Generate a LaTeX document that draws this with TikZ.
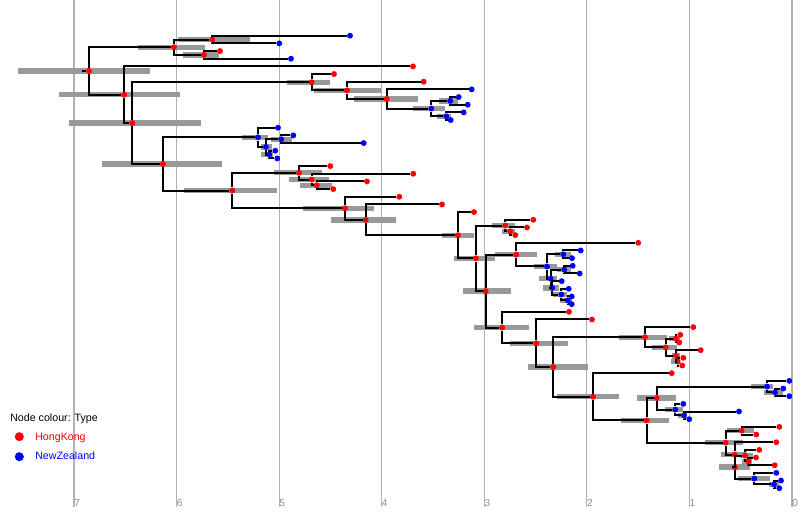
\documentclass[tikz,border=0pt]{standalone}
\usepackage{fontspec}
\setmainfont{Liberation Sans}
\usetikzlibrary{backgrounds}
\colorlet{hk}{red}
\colorlet{nz}{blue}
\begin{document}
\begin{tikzpicture}[x=0.75pt,y=-0.75pt,
  dot/.style={circle,inner sep=0pt,minimum size=4.4pt},
  branch/.style={line width=1.5pt},
  hpd/.style={line width=4pt,black!40},
  gridline/.style={black!30,line width=0.8pt},
  lab/.style={inner sep=0pt,anchor=base west,font=\fontsize{8}{10}\selectfont},
  axislab/.style={lab,text=black!45,font=\fontsize{7.6}{9}\selectfont}]

  \useasboundingbox (0,0) rectangle (807,513);

  % tips, evenly spaced from the top
  \foreach \i/\x/\c in {
    0/350/nz, 1/279.3/nz, 2/220/hk, 3/291/nz, 4/413/hk, 5/334/hk,
    6/423.7/hk, 7/471.7/nz, 8/458.7/nz, 9/467.7/nz, 10/463.7/nz, 11/450.7/nz,
    12/278/nz, 13/293.3/nz, 14/363.7/nz, 15/275.3/nz, 16/277.3/nz,
    17/330.3/hk, 18/413.3/hk, 19/367/hk, 20/333.3/hk, 21/399.3/hk,
    22/442/hk, 23/474/hk, 24/533.3/hk, 25/527/hk, 26/515.3/hk, 27/638.3/hk,
    28/580.7/nz, 29/572/nz, 30/572.7/nz, 31/579.7/nz, 32/561.7/nz,
    33/568.7/nz, 34/571.7/nz, 35/571.7/nz,
    36/569/hk, 37/592/hk, 38/693.3/hk, 39/680.3/hk, 40/679.3/hk,
    41/700.7/hk, 42/683.3/hk, 43/682.3/hk, 44/671.7/hk,
    45/789.3/nz, 46/783.3/nz, 47/789.3/nz, 48/683.3/nz, 49/739/nz, 50/689.3/nz,
    51/779.3/hk, 52/756.3/hk, 53/776.3/hk, 54/759.3/hk, 55/756/hk, 56/774.7/hk,
    57/776.3/nz, 58/781/nz, 59/779.3/nz} {
    \node[dot,fill=\c] (t\i) at (\x,{35.7+7.67*\i}) {};
  }

  % internal nodes (y halfway between the two children)
  \foreach \nd/\x/\k/\c in {
    r/89/4.6/hk, a/174/1.5/hk, a1/212.3/0.5/hk, a2/204/2.5/hk,
    b/124.3/7.70/hk, c/132.3/11.39/hk,
    d/311.7/6.0625/hk, d1/347/7.125/hk, d2/386.7/8.25/hk,
    d3/431.3/9.5/nz, d4/450.3/8.5/nz, d5/446.3/10.5/nz,
    e/163/16.72/hk, f/258/13.25/nz, f1/266/14.5/nz, f2/281.3/13.5/nz, f3/269.3/15.5/nz,
    g/232.3/20.19/hk, h/299/17.875/hk, h1/311.7/18.75/hk, h2/316.7/19.5/hk,
    i/345/22.5/hk, j/365.7/24.01/hk, k/458/26.01/hk, l/476/29.03/hk,
    m/505.3/24.75/hk, m1/510.3/25.5/hk, o/485.7/33.30/hk, p/516.3/28.55/hk,
    p1/547/30.09/nz, p2/563.3/28.5/nz, p3/550.7/31.69/nz, p4/564.3/30.5/nz,
    p5/552.3/32.875/nz, p6/561.3/33.75/nz, p7/567.7/34.5/nz,
    q/502.3/38.05/hk, s/536.3/40.10/hk, u/553.3/43.20/hk,
    v/645/39.31/hk, v1/665.7/40.625/hk, v2/675.7/39.5/hk, v3/676/41.75/hk, v4/677.7/42.5/hk,
    w/593/47.08/hk, x1/646.7/50.16/hk, y1/656.7/47.25/hk,
    y2/767/45.75/nz, y4/775/46.5/nz, y3/675.3/48.75/nz, y5/684/49.5/nz,
    z/725.7/53.06/hk, z1/741.7/51.5/hk, z2/734.7/54.625/hk, z3/735/56.25/hk,
    z4/745/54.75/hk, z6/748.3/55.5/hk, z5/754.3/57.75/nz, z7/774/58.5/nz} {
    \node[dot,fill=\c] (\nd) at (\x,{35.7+7.67*\k}) {};
  }

  % grid and node bars behind the tree
  \begin{scope}[on background layer]
    \foreach \v in {0,...,7} {
      \draw[gridline] ({792-102.57*\v},0) -- ({792-102.57*\v},507);
    }
    \foreach \nd/\xa/\xb in {
      r/17.7/150.3, b/59/180.3, c/69.3/201, a/138.3/205, a1/178.3/250.3, a2/183/219,
      d/287.3/330, d1/314.3/381, d2/354/417.7, d3/413/445, d4/439.3/457.7, d5/437.3/450.7,
      e/102/222, f/242/268, f1/261/272, f2/270.7/292, f3/260.7/273.3,
      g/184/277, h/274/321.7, h1/289.3/328.7, h2/300/331.7,
      i/303.3/373.7, j/331/395.7, k/442/473.7, l/454/495, m/492.3/515.3, m1/502.3/515,
      o/463.3/510.7, p/495/537, p1/534.3/556.7, p2/555.3/570.7, p4/556.7/570.7,
      p3/539.3/556.7, p5/542.7/559, p6/553.3/566.7, p7/560/571.7,
      q/474.3/529.3, s/510/567.7, u/527.7/587.7, w/556.7/618.7,
      v/618.7/666.7, v1/652.3/676.7, v2/669.3/680, v3/672/680, v4/670.7/680,
      x1/621/668.7, y1/636.7/676, y3/665/683.3, y5/678.3/686.7, y2/751.3/773.3, y4/764/783.3,
      z/705/742.5, z1/727.3/754, z2/721/746.7, z4/740/753.3, z6/741.7/751.7,
      z3/719.3/750, z5/737.7/770, z7/769/779.3} {
      \draw[hpd] (\xa,0 |- \nd) -- (\xb,0 |- \nd);
    }
  \end{scope}

  % branches
  \coordinate (r0) at (82,0 |- r);
  \draw[branch] (r0) -- (r);
  \foreach \pa/\ch in {
    r/a, r/b, a/a1, a/a2, a1/t0, a1/t1, a2/t2, a2/t3,
    b/t4, b/c, c/d, c/e,
    d/t5, d/d1, d1/t6, d1/d2, d2/t7, d2/d3, d3/d4, d3/d5, d4/t8, d4/t9, d5/t10, d5/t11,
    e/f, e/g, f/t12, f/f1, f1/f2, f1/f3, f2/t13, f2/t14, f3/t15, f3/t16,
    g/h, g/i, h/t17, h/h1, h1/t18, h1/h2, h2/t19, h2/t20,
    i/t21, i/j, j/t22, j/k, k/t23, k/l,
    l/m, l/o, m/t24, m/m1, m1/t25, m1/t26,
    o/p, o/q, p/t27, p/p1, p1/p2, p1/p3, p2/t28, p2/t29, p3/p4, p3/p5,
    p4/t30, p4/t31, p5/t32, p5/p6, p6/t33, p6/p7, p7/t34, p7/t35,
    q/t36, q/s, s/t37, s/u, u/v, u/w,
    v/t38, v/v1, v1/v2, v1/v3, v2/t39, v2/t40, v3/t41, v3/v4, v4/t42, v4/t43,
    w/t44, w/x1, x1/y1, x1/z,
    y1/y2, y1/y3, y2/t45, y2/y4, y4/t46, y4/t47, y3/t48, y3/y5, y5/t49, y5/t50,
    z/z1, z/z2, z1/t51, z1/t52, z2/t53, z2/z3, z3/z4, z3/z5,
    z4/t54, z4/z6, z6/t55, z6/t56, z5/t57, z5/z7, z7/t58, z7/t59} {
    \draw[branch] (\pa) |- (\ch);
  }

  % time axis
  \foreach \v in {0,...,7} {
    \node[axislab] (ax\v) at ({792-102.57*\v},506.7) {\v};
  }

  % legend
  \node[lab] (legtitle) at (10,421.7) {Node colour: Type};
  \node[dot,fill=hk,minimum size=6.8pt] (keyhk) at (19.3,436.7) {};
  \node[lab,text=hk] (labhk) at (35,440) {HongKong};
  \node[dot,fill=nz,minimum size=6.8pt] (keynz) at (19.3,456.7) {};
  \node[lab,text=nz] (labnz) at (35,459.7) {NewZealand};

\end{tikzpicture}
\end{document}
